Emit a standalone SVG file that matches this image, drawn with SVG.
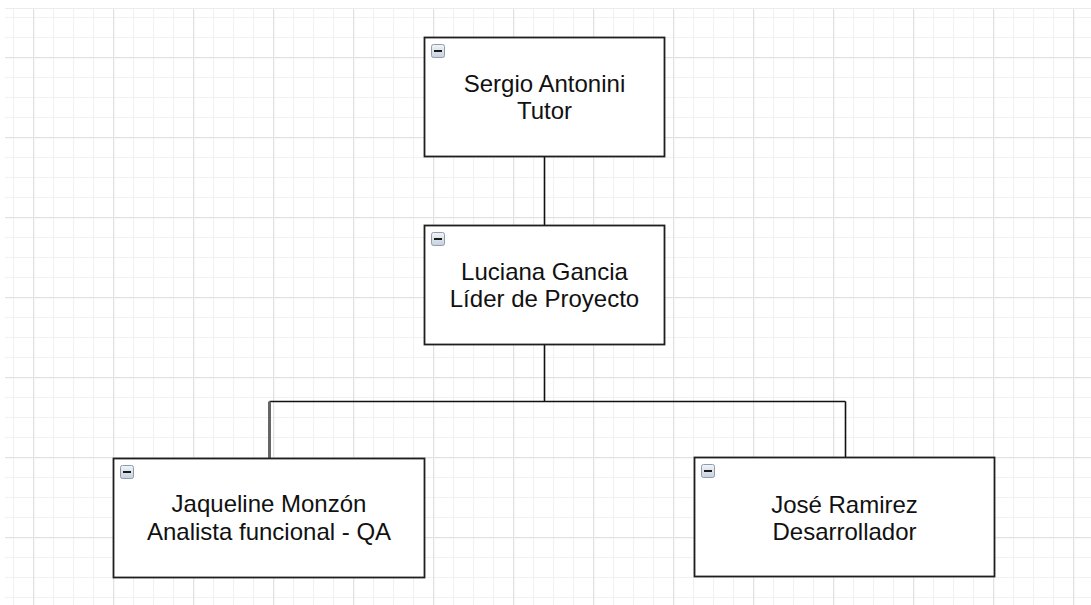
<svg xmlns="http://www.w3.org/2000/svg" width="1091" height="605" viewBox="0 0 1091 605">
  <defs>
    <pattern id="minor" x="13" y="17" width="20" height="20" patternUnits="userSpaceOnUse">
      <path d="M0.5 0V20M0 0.5H20" stroke="#f1f1f1" stroke-width="1.2" fill="none"/>
    </pattern>
    <pattern id="major" x="33" y="57" width="80" height="80" patternUnits="userSpaceOnUse">
      <path d="M0.5 0V80M0 0.5H80" stroke="#e2e2e2" stroke-width="1.5" fill="none"/>
    </pattern>
    <linearGradient id="iconGrad" x1="0" y1="0" x2="0" y2="1">
      <stop offset="0" stop-color="#f2f5f9"/>
      <stop offset="1" stop-color="#c6d0dc"/>
    </linearGradient>
    <g id="minusIcon">
      <rect x="0.5" y="0.5" width="13" height="13" rx="2" fill="url(#iconGrad)" stroke="#8d9cb0" stroke-width="1"/>
      <rect x="3" y="6" width="8" height="2" fill="#1a1a1a"/>
    </g>
  </defs>
  <style>
    .node rect.box { fill: #ffffff; stroke: #1e1e1e; stroke-width: 1.8; }
    .node text { font-family: "Liberation Sans", Arial, sans-serif; font-size: 24px; fill: #111111; text-anchor: middle; }
    .conn { stroke: #111111; stroke-width: 1.6; fill: none; }
    .conn-grey { stroke: #666666; stroke-width: 3; fill: none; }
  </style>
  <rect x="0" y="0" width="1091" height="605" fill="#ffffff"/>
  <rect x="5" y="8" width="1086" height="597" fill="url(#minor)"/>
  <rect x="5" y="8" width="1086" height="597" fill="url(#major)"/>
  <path d="M5 8.5H1091" stroke="#ececec" stroke-width="1"/>

  <g id="connectors">
    <path class="conn" d="M544.5 157V225"/>
    <path class="conn" d="M544.5 345V401.5"/>
    <path class="conn" d="M269.5 401.5H845.5"/>
    <path class="conn-grey" d="M269.5 401.5V458"/>
    <path class="conn" d="M845.5 401.5V457"/>
  </g>

  <g id="node-sergio" class="node">
    <rect class="box" x="424.5" y="37.5" width="240" height="119"/>
    <use href="#minusIcon" x="431" y="44"/>
    <text x="544.5" y="92">Sergio Antonini</text>
    <text x="544.5" y="119">Tutor</text>
  </g>

  <g id="node-luciana" class="node">
    <rect class="box" x="424.5" y="225.5" width="240" height="119"/>
    <use href="#minusIcon" x="431" y="232"/>
    <text x="544.5" y="280">Luciana Gancia</text>
    <text x="544.5" y="307">Líder de Proyecto</text>
  </g>

  <g id="node-jaqueline" class="node">
    <rect class="box" x="113.5" y="458.5" width="311" height="119"/>
    <use href="#minusIcon" x="120" y="465"/>
    <text x="269" y="512">Jaqueline Monzón</text>
    <text x="269" y="540">Analista funcional - QA</text>
  </g>

  <g id="node-jose" class="node">
    <rect class="box" x="694.5" y="457.5" width="300" height="119"/>
    <use href="#minusIcon" x="701" y="464"/>
    <text x="844.5" y="513">José Ramirez</text>
    <text x="844.5" y="540">Desarrollador</text>
  </g>
</svg>
